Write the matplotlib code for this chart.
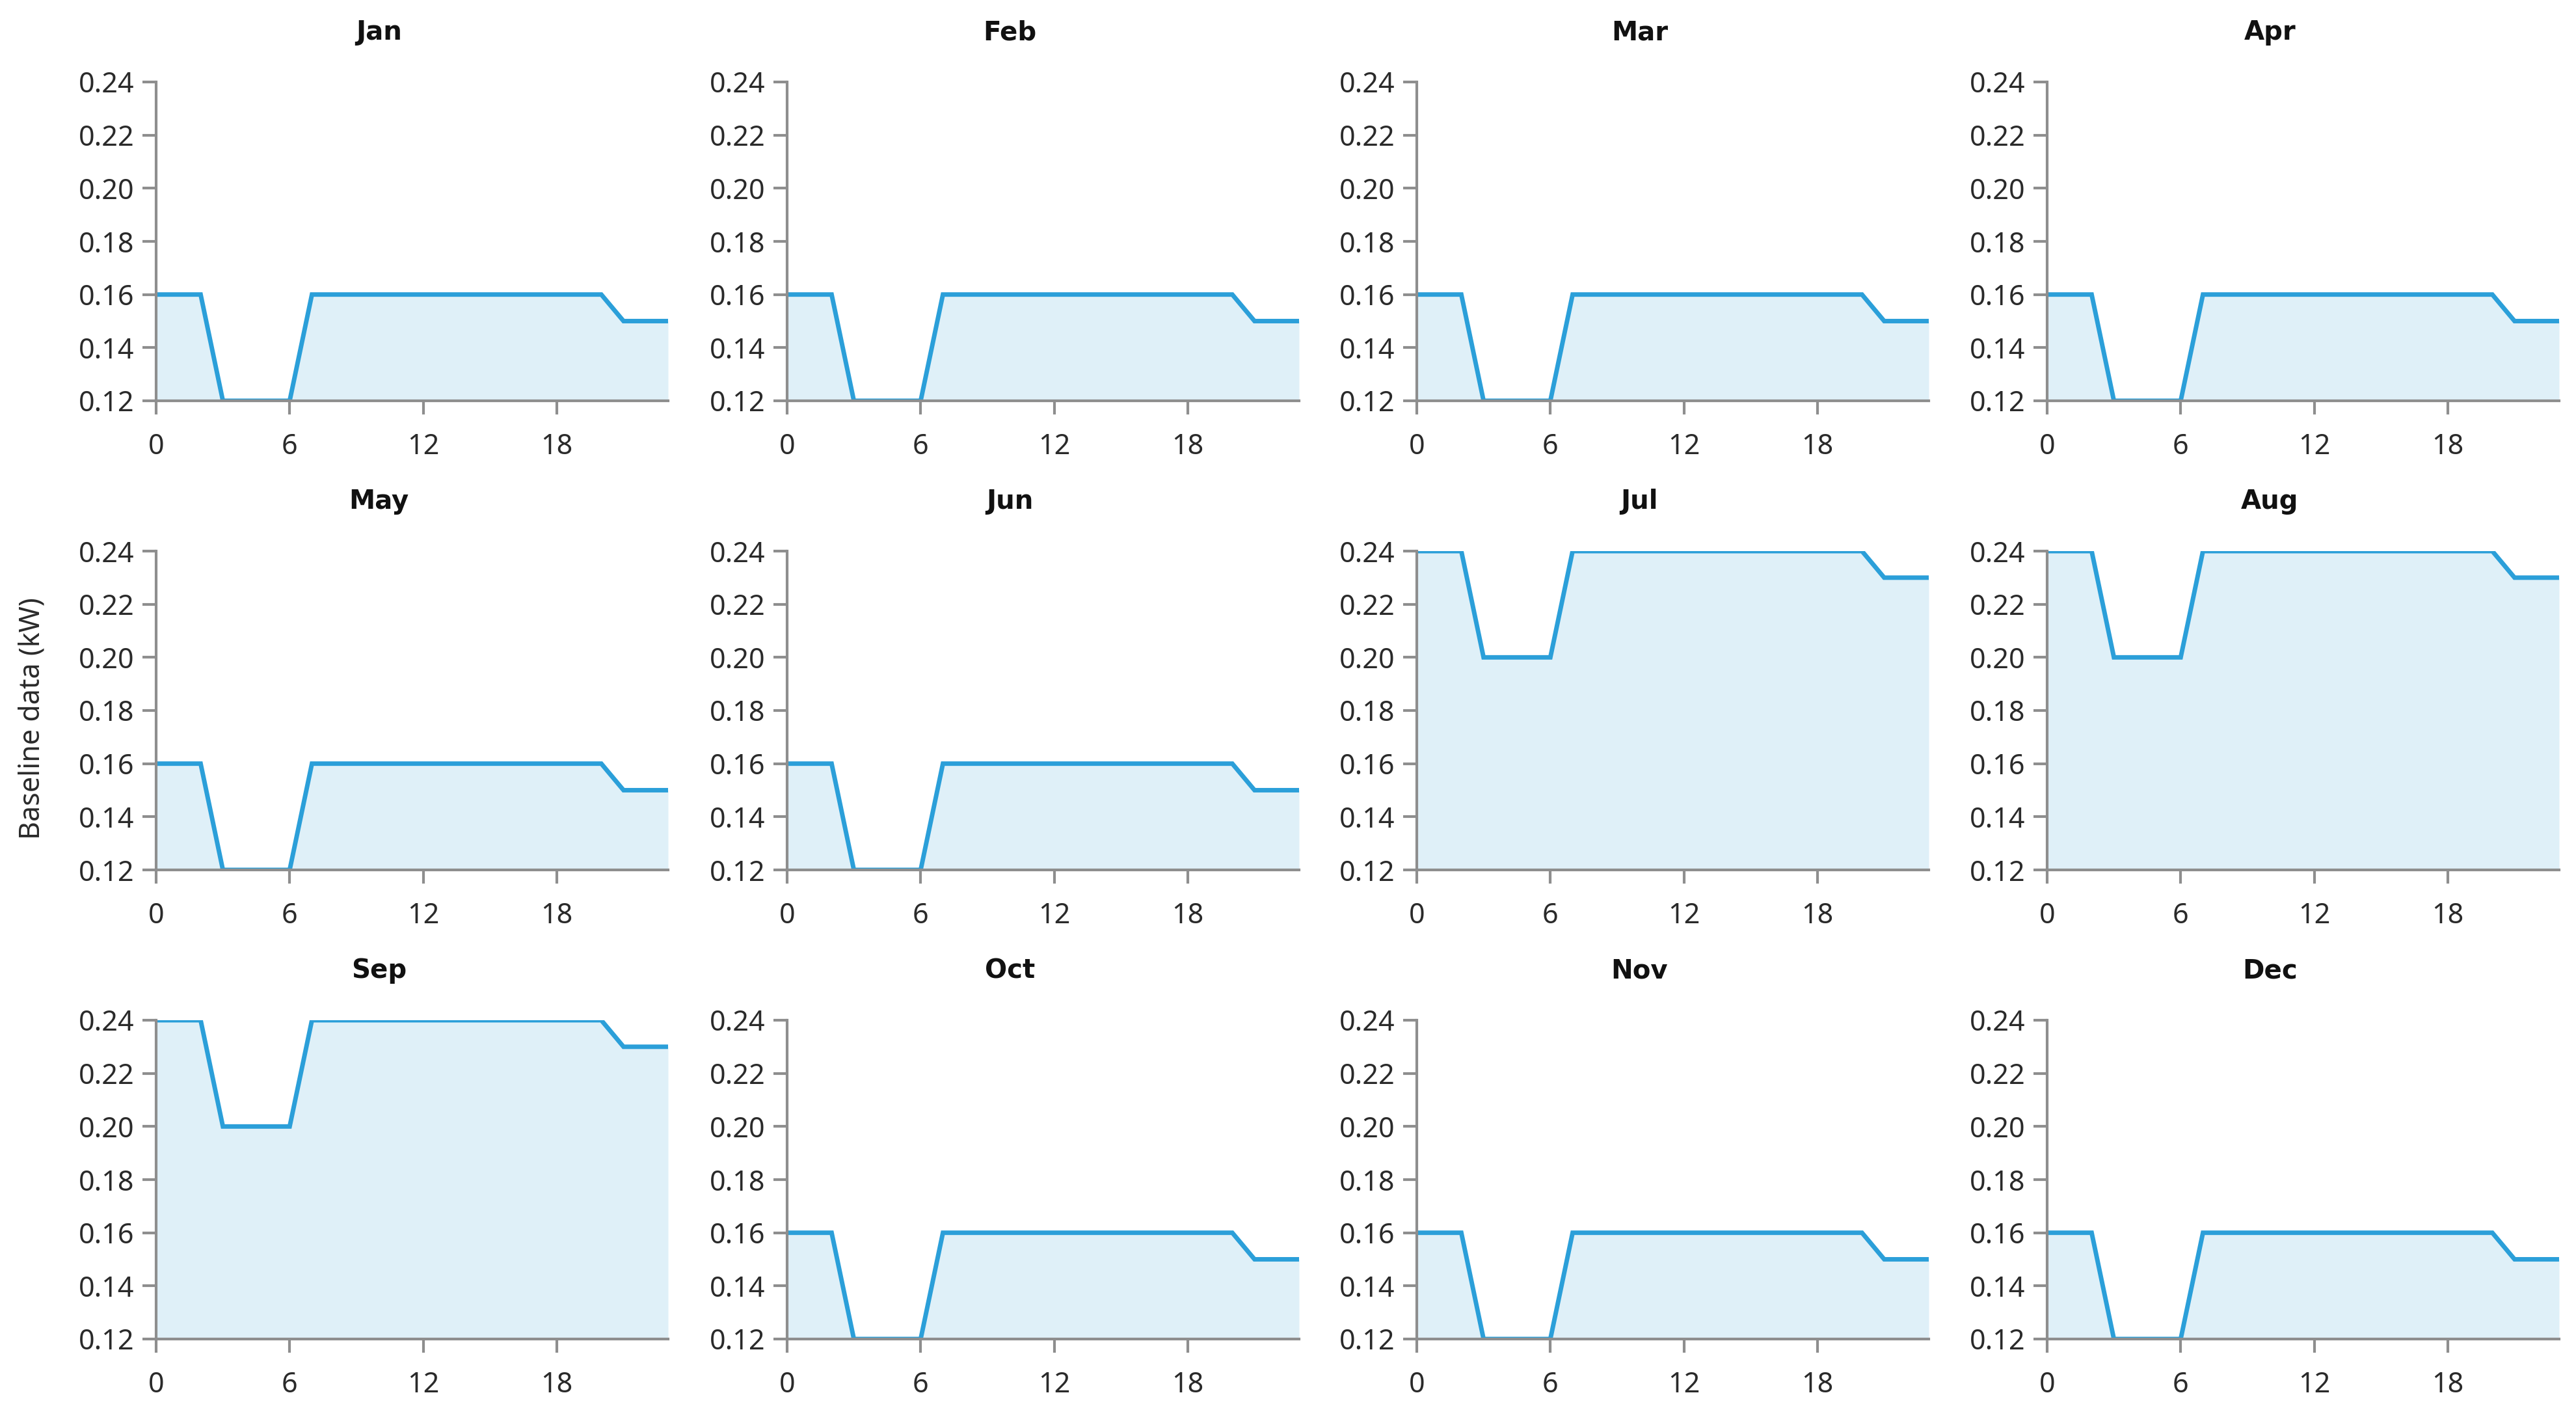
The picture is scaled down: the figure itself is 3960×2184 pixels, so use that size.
import matplotlib
matplotlib.use("Agg")
import matplotlib.pyplot as plt

plt.rcParams["font.family"] = ["Noto Sans", "DejaVu Sans"]

months = ["Jan", "Feb", "Mar", "Apr", "May", "Jun",
          "Jul", "Aug", "Sep", "Oct", "Nov", "Dec"]
hours = list(range(24))
# hourly baseline load (kW)
profile_normal = [0.16, 0.16, 0.16, 0.12, 0.12, 0.12, 0.12, 0.16, 0.16, 0.16, 0.16, 0.16,
                  0.16, 0.16, 0.16, 0.16, 0.16, 0.16, 0.16, 0.16, 0.16, 0.15, 0.15, 0.15]
profile_summer = [0.24, 0.24, 0.24, 0.20, 0.20, 0.20, 0.20, 0.24, 0.24, 0.24, 0.24, 0.24,
                  0.24, 0.24, 0.24, 0.24, 0.24, 0.24, 0.24, 0.24, 0.24, 0.23, 0.23, 0.23]
month_profile = ["normal", "normal", "normal", "normal", "normal", "normal",
                 "summer", "summer", "summer", "normal", "normal", "normal"]
y_ticks = [0.12, 0.14, 0.16, 0.18, 0.20, 0.22, 0.24]
x_ticks = [0, 6, 12, 18]

LINE = "#2b9fd9"
FILL = "#dff0f8"
AXIS = "#8e8e8e"
TEXT = "#2a2a2a"

W, H = 3960, 2184
fig = plt.figure(figsize=(W / 100, H / 100), dpi=100)

col_left = [240, 1210, 2178, 3147]
row_top = [126, 847, 1568]
ax_w, ax_h = 787, 490

for i, month in enumerate(months):
    r, c = divmod(i, 4)
    left = col_left[c] / W
    bottom = 1 - (row_top[r] + ax_h) / H
    ax = fig.add_axes([left, bottom, ax_w / W, ax_h / H])
    values = profile_summer if month_profile[i] == "summer" else profile_normal
    ax.fill_between(hours, values, 0.12, color=FILL, lw=0, zorder=1)
    ax.plot(hours, values, color=LINE, lw=5, solid_joinstyle="miter", zorder=3)
    ax.set_xlim(0, 23)
    ax.set_ylim(0.12, 0.24)
    ax.set_xticks(x_ticks)
    ax.set_yticks(y_ticks)
    ax.set_yticklabels([f"{v:.2f}" for v in y_ticks])
    for side in ("top", "right"):
        ax.spines[side].set_visible(False)
    for side in ("left", "bottom"):
        ax.spines[side].set_color(AXIS)
        ax.spines[side].set_linewidth(3)
        ax.spines[side].set_zorder(4)
    ax.tick_params(axis="both", colors=AXIS, labelcolor=TEXT, length=15, width=3, labelsize=31)
    ax.tick_params(axis="x", pad=20)
    ax.tick_params(axis="y", pad=9)
    ax.set_facecolor("none")
    ax.text(0.435, 1.155, month, transform=ax.transAxes, ha="center", va="center",
            fontsize=29, fontweight="bold", color="#111111",
            family=["DejaVu Sans"])

fig.text(50 / W, 1 - 1104 / H, "Baseline data (kW)", rotation=90, ha="center", va="center",
         fontsize=31, color=TEXT)

fig.savefig("out.png", dpi=100, facecolor="white")
plt.close(fig)
